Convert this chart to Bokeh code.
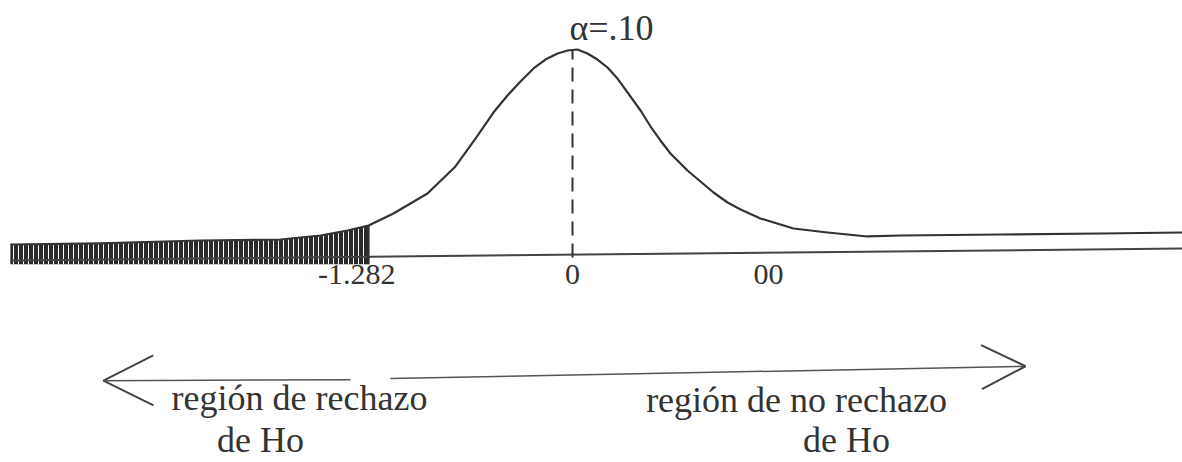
import numpy as np
from bokeh.plotting import figure
from bokeh.models import ColumnDataSource, Arrow, OpenHead
from bokeh.core.properties import value
from bokeh.embed import file_html
from bokeh.resources import INLINE

# Hand-drawn normal curve (z units, height units)
curve_z = [-3.535, -2.969, -2.340, -1.836, -1.585, -1.415, -1.282, -1.126, -0.912, -0.736,
           -0.610, -0.497, -0.409, -0.327, -0.245, -0.170, -0.094, -0.031, 0.031, 0.094,
           0.157, 0.220, 0.283, 0.346, 0.428, 0.491, 0.553, 0.616, 0.723, 0.805,
           0.887, 0.975, 1.057, 1.182, 1.390, 1.604, 1.855, 2.063, 2.692, 3.321, 3.836]
curve_y = [0.0194, 0.0214, 0.0272, 0.0291, 0.0369, 0.0466, 0.0563, 0.0796, 0.1184, 0.1709,
           0.2252, 0.2757, 0.3087, 0.3359, 0.3612, 0.3786, 0.3903, 0.3961, 0.3981, 0.3903,
           0.3786, 0.3631, 0.3417, 0.3146, 0.2796, 0.2485, 0.2214, 0.1961, 0.1631, 0.1417,
           0.1204, 0.1010, 0.0874, 0.0699, 0.0505, 0.0427, 0.0350, 0.0369, 0.0388, 0.0408, 0.0427]

critical_z = -1.282
alpha_label = "α=.10"
tick_z = [-1.282, 0.0, 1.233]
tick_labels = ["-1.282", "0", "00"]
region_left = ["región de rechazo", "de Ho"]
region_right = ["región de no rechazo", "de Ho"]

FONT = value("Liberation Serif")
INK = "#333333"

p = figure(width=1182, height=462, output_backend="svg", toolbar_location=None,
           x_range=(-3.597, 3.836), y_range=(-0.4039, 0.4932),
           x_axis_location=None, y_axis_location=None, min_border=0,
           background_fill_color="white", border_fill_color="white",
           outline_line_color=None)
p.grid.visible = False

cz = np.array(curve_z)
cy = np.array(curve_y)
mask = cz <= critical_z + 1e-9

# shaded rejection region
p.varea(x=cz[mask], y1=np.full(mask.sum(), -0.019), y2=cy[mask],
        fill_color="#2a2a2a", fill_alpha=1.0,
        hatch_pattern="vertical_line", hatch_color="white", hatch_scale=5, hatch_weight=1.0)

# horizontal axis (slightly tilted as in the scan)
p.line(x=[curve_z[0], p.x_range.end], y=[-0.0115, 0.0117],
       line_color="#444444", line_width=2)

# curve
p.line(x=curve_z, y=curve_y, line_color=INK, line_width=2.2, line_join="round")

# dashed line at the mode
peak = max(curve_y)
p.segment(x0=[0.0], y0=[-0.006], x1=[0.0], y1=[peak], line_color=INK,
          line_width=2, line_dash="14 8")

# edge of the rejection region
p.segment(x0=[critical_z], y0=[-0.019], x1=[critical_z], y1=[cy[mask][-1]],
          line_color=INK, line_width=2)


def label(x, y, texts, size, dx=0):
    src = ColumnDataSource(dict(x=x, y=y, t=texts))
    p.text(x="x", y="y", text="t", source=src, x_offset=dx, y_offset=-round(0.37 * size),
           text_align="center", text_baseline="alphabetic", text_font=FONT,
           text_font_size=value(f"{size}px"), text_color=INK)


# tick labels
label([tick_z[0]], [-0.060], [tick_labels[0]], 30, dx=-12)
label(tick_z[1:], [-0.060] * 2, tick_labels[1:], 30)

# alpha label
label([0.245], [0.4155], [alpha_label], 36)

# arrows
p.add_layout(Arrow(end=OpenHead(size=50, line_width=2, line_color="#444444"),
                   x_start=-1.396, y_start=-0.243, x_end=-2.950, y_end=-0.245,
                   line_width=1.5, line_color="#555555"))
p.add_layout(Arrow(end=OpenHead(size=44, line_width=2, line_color="#444444"),
                   x_start=-1.145, y_start=-0.241, x_end=2.849, y_end=-0.217,
                   line_width=1.5, line_color="#555555"))

# region labels
label([-1.717, -1.962], [-0.303, -0.3845], region_left, 36)
label([1.409, 1.723], [-0.307, -0.3845], region_right, 36)

open("out.html", "w").write(file_html(p, INLINE))
